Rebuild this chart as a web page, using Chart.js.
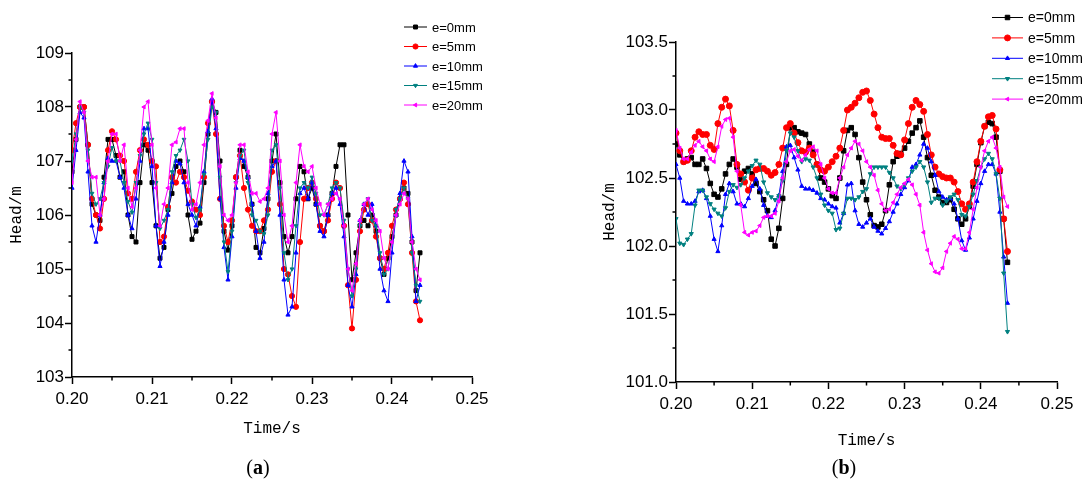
<!DOCTYPE html>
<html>
<head>
<meta charset="utf-8">
<script src="https://cdn.jsdelivr.net/npm/chart.js@4.4.1/dist/chart.umd.min.js"></script>
<style>
body { margin: 0; background: #fff; width: 1086px; height: 485px; position: relative; overflow: hidden; }
canvas { position: absolute; top: 0; }
#chartA { left: 0; }
#chartB { left: 543px; }
.cap { position: absolute; top: 456px; font-family: "Liberation Serif", serif; font-size: 20px; color: #000; transform: translateX(-50%); }
</style>
</head>
<body>
<canvas id="chartA" width="543" height="485"></canvas>
<canvas id="chartB" width="543" height="485"></canvas>
<div class="cap" style="left:258px">(<b>a</b>)</div>
<div class="cap" style="left:844px">(<b>b</b>)</div>
<script>
// sample times (s), shared by both panels
const times = [
  0.2000, 0.2005, 0.2010, 0.2015, 0.2020, 0.2025, 0.2030, 0.2035, 0.2040, 0.2045,
  0.2050, 0.2055, 0.2060, 0.2065, 0.2070, 0.2075, 0.2080, 0.2085, 0.2090, 0.2095,
  0.2100, 0.2105, 0.2110, 0.2115, 0.2120, 0.2125, 0.2130, 0.2135, 0.2140, 0.2145,
  0.2150, 0.2155, 0.2160, 0.2165, 0.2170, 0.2175, 0.2180, 0.2185, 0.2190, 0.2195,
  0.2200, 0.2205, 0.2210, 0.2215, 0.2220, 0.2225, 0.2230, 0.2235, 0.2240, 0.2245,
  0.2250, 0.2255, 0.2260, 0.2265, 0.2270, 0.2275, 0.2280, 0.2285, 0.2290, 0.2295,
  0.2300, 0.2305, 0.2310, 0.2315, 0.2320, 0.2325, 0.2330, 0.2335, 0.2340, 0.2345,
  0.2350, 0.2355, 0.2360, 0.2365, 0.2370, 0.2375, 0.2380, 0.2385, 0.2390, 0.2395,
  0.2400, 0.2405, 0.2410, 0.2415, 0.2420, 0.2425, 0.2430, 0.2435
];

const seriesNames = ['e=0mm', 'e=5mm', 'e=10mm', 'e=15mm', 'e=20mm'];

// panel (a) head, m
const headA0 = [
  106.8, 107.4, 108.0, 108.0, 107.3, 106.2, 106.0, 105.9, 106.7, 107.4,
  107.4, 107.1, 106.7, 106.8, 106.0, 105.6, 105.5, 106.6, 107.3, 107.2,
  106.6, 105.8, 105.2, 105.4, 106.1, 106.4, 106.9, 107.0, 106.8, 106.0,
  105.55, 105.7, 105.85, 106.6, 107.5, 108.1, 107.9, 107.0, 105.7, 105.35,
  105.8, 106.7, 107.2, 106.9, 106.7, 106.2, 105.4, 105.3, 105.75, 106.3,
  107.0, 107.5, 106.6, 105.6, 105.3, 105.6, 106.3, 106.9, 106.8, 106.3,
  106.5, 106.2, 105.8, 105.7, 106.0, 106.4, 106.9, 107.3, 107.3, 106.0,
  104.8, 105.3, 105.8, 105.9, 105.8, 106.0, 105.7, 105.2, 104.9, 105.2,
  105.6, 106.0, 106.3, 106.5, 106.4, 105.5, 104.6, 105.3
];
const headA5 = [
  107.2, 107.7, 108.0, 108.0, 107.3, 106.3, 106.0, 105.75, 106.3, 107.2,
  107.55, 107.4, 107.1, 107.0, 106.4, 106.3, 106.8, 107.2, 107.4, 107.3,
  107.0, 106.9, 105.5, 105.6, 106.15, 106.7, 106.6, 106.8, 106.7, 106.45,
  106.25, 106.1, 106.0, 106.7, 107.7, 108.1, 107.5, 106.3, 105.8, 105.5,
  105.9, 106.7, 107.1, 106.5, 106.1, 105.8, 105.7, 105.7, 105.9, 106.1,
  106.8, 107.0, 106.2, 105.0, 104.9, 104.5, 104.3, 105.5, 106.3, 106.5,
  106.6, 106.3, 105.8, 105.7, 105.9, 106.3, 106.6, 106.5, 105.8, 104.7,
  103.9, 104.8, 105.7, 106.1, 106.2, 105.9, 105.6, 105.2, 105.0, 105.3,
  105.8, 106.1, 106.3, 106.6, 106.2, 105.3, 104.4, 104.05
];
const headA10 = [
  106.5, 107.2, 107.9, 107.8, 106.8, 105.8, 105.5, 106.0, 106.6, 107.05,
  107.0, 107.0, 106.7, 106.5, 106.0, 105.75, 106.3, 107.0, 107.6, 107.6,
  106.9, 105.8, 105.05, 105.5, 106.0, 106.6, 107.0, 106.95, 106.6, 106.2,
  106.0, 105.8, 106.15, 106.8, 107.55, 108.15, 107.6, 106.3, 105.4, 104.8,
  105.6, 106.5, 107.05, 107.0, 106.7, 106.2, 105.7, 105.2, 105.5, 106.4,
  106.9, 107.0, 106.0, 104.8, 104.15, 104.3, 105.3, 106.4, 106.5, 106.3,
  106.6, 106.2, 105.7, 105.6, 106.0, 106.4, 106.5, 106.2, 105.6, 104.7,
  104.3, 104.9, 105.9, 106.2, 106.0, 106.2, 105.8, 105.0, 104.6, 104.4,
  105.3, 106.0, 106.4, 107.0, 106.8, 105.6, 104.4, 104.7
];
const headA15 = [
  107.0, 107.5, 108.0, 107.9, 107.2, 106.4, 106.2, 106.3, 106.6, 106.9,
  107.25, 107.0, 107.0, 106.6, 106.25, 106.05, 106.6, 107.1, 107.5, 107.7,
  107.4, 106.6, 105.75, 105.9, 106.1, 106.8, 107.1, 107.2, 107.4, 107.0,
  106.2, 105.95, 106.1, 106.75, 107.4, 108.0, 107.9, 106.7, 105.5, 104.95,
  105.7, 106.6, 107.1, 107.2, 106.6, 106.0, 105.9, 105.7, 105.65, 106.0,
  107.2, 107.3, 106.5, 105.3, 104.8, 105.0, 105.8, 106.5, 106.6, 106.5,
  106.7, 106.4, 106.0, 106.0, 106.2, 106.5, 106.6, 106.5, 105.9, 105.0,
  104.5, 105.0, 105.8, 106.2, 106.3, 105.9, 105.8, 105.3, 104.9, 105.0,
  105.5, 106.1, 106.3, 106.5, 106.3, 105.3, 104.7, 104.4
];
const headA20 = [
  106.6, 107.4, 108.1, 107.9, 107.0, 106.7, 106.7, 106.0, 106.3, 107.0,
  107.5, 107.5, 107.0, 107.3, 106.5, 106.15, 106.5, 107.2, 108.0, 108.1,
  107.3, 106.5, 105.8, 106.2, 106.5, 107.3, 107.35, 107.6, 107.6, 106.6,
  106.1, 106.2, 106.6, 107.3, 107.75, 108.25, 107.8, 106.9, 106.0, 105.9,
  106.0, 106.6, 107.3, 107.3, 106.8, 106.4, 106.4, 106.25, 106.3, 106.5,
  107.5, 107.9, 107.0, 106.0, 105.5, 105.8, 106.6, 107.3, 106.9, 106.8,
  106.9, 106.5, 106.2, 106.0, 106.2, 106.3, 106.4, 106.3, 105.8, 105.0,
  104.6, 105.1, 105.9, 106.2, 106.3, 106.1, 105.9, 105.7, 105.2, 105.0,
  105.5, 106.0, 106.2, 106.4, 106.3, 105.5, 105.0, 104.8
];

// panel (b) head, m
const headB0 = [
  102.75, 102.67, 102.62, 102.64, 102.65, 102.6, 102.6, 102.64, 102.57, 102.46,
  102.38, 102.36, 102.42, 102.53, 102.6, 102.64, 102.58, 102.49, 102.55, 102.57,
  102.53, 102.46, 102.4, 102.34, 102.26, 102.05, 102.0, 102.13, 102.35, 102.6,
  102.87, 102.87, 102.84, 102.83, 102.82, 102.75, 102.69, 102.6, 102.5, 102.47,
  102.42, 102.37, 102.35, 102.5, 102.7, 102.85, 102.87, 102.82, 102.65, 102.47,
  102.34, 102.23, 102.15, 102.14, 102.16, 102.26, 102.45, 102.62, 102.66, 102.68,
  102.72, 102.77, 102.83, 102.87, 102.92, 102.8, 102.65, 102.52, 102.41, 102.36,
  102.32, 102.32, 102.34, 102.27, 102.2, 102.16, 102.2, 102.29, 102.44, 102.6,
  102.76, 102.88, 102.91, 102.9, 102.8, 102.55, 102.2, 101.88
];
const headB5 = [
  102.83, 102.7, 102.62, 102.63, 102.7, 102.8, 102.84, 102.82, 102.82, 102.74,
  102.71, 102.9, 103.02, 103.08, 103.03, 102.85, 102.6, 102.53, 102.47, 102.41,
  102.5, 102.56, 102.57, 102.57, 102.55, 102.52, 102.54, 102.6, 102.72, 102.87,
  102.9, 102.83, 102.76, 102.7, 102.69, 102.72, 102.67, 102.6, 102.56, 102.55,
  102.58, 102.62, 102.66, 102.72, 102.85, 103.0, 103.02, 103.05, 103.09, 103.13,
  103.14, 103.07, 102.97, 102.87, 102.8, 102.79, 102.79, 102.74, 102.68, 102.67,
  102.78, 102.9, 103.02, 103.07, 103.04, 102.99, 102.82, 102.67, 102.58, 102.53,
  102.51, 102.5, 102.5, 102.47, 102.4, 102.31, 102.27, 102.31, 102.47, 102.62,
  102.77, 102.88, 102.95, 102.96, 102.86, 102.56, 102.2, 101.96
];
const headB10 = [
  102.6, 102.5, 102.33, 102.31, 102.31, 102.33, 102.4, 102.41, 102.35, 102.22,
  102.05, 101.96, 102.15, 102.38, 102.46, 102.4, 102.31, 102.31, 102.29, 102.35,
  102.44, 102.49, 102.42, 102.3, 102.22, 102.21, 102.26, 102.37, 102.55, 102.73,
  102.74, 102.65, 102.56, 102.44, 102.42, 102.42, 102.41, 102.39, 102.35, 102.34,
  102.31, 102.29, 102.28, 102.17, 102.24, 102.45, 102.46, 102.26, 102.16, 102.14,
  102.17, 102.2, 102.14, 102.11, 102.09, 102.13, 102.18, 102.25, 102.31, 102.38,
  102.43, 102.48, 102.58, 102.6, 102.67, 102.75, 102.72, 102.62, 102.52, 102.4,
  102.36, 102.34, 102.35, 102.31, 102.2, 102.04, 101.97, 102.06, 102.2, 102.33,
  102.46, 102.55, 102.6, 102.6, 102.53, 102.25, 101.92, 101.58
];
const headB15 = [
  102.2, 102.02, 102.01, 102.05, 102.09, 102.3, 102.41, 102.41, 102.36, 102.31,
  102.27, 102.24, 102.22, 102.28, 102.4, 102.45, 102.43, 102.45, 102.5, 102.55,
  102.59, 102.63, 102.6, 102.47, 102.39, 102.36, 102.34, 102.37, 102.48, 102.7,
  102.83, 102.8, 102.7, 102.62, 102.64, 102.63, 102.58, 102.5, 102.38, 102.3,
  102.26, 102.24, 102.12, 102.13, 102.24, 102.35, 102.35, 102.34, 102.36, 102.4,
  102.42, 102.53, 102.58, 102.58, 102.58, 102.58, 102.54, 102.5, 102.44, 102.42,
  102.45, 102.5, 102.55, 102.58, 102.62, 102.58, 102.47, 102.32, 102.35, 102.35,
  102.3, 102.33, 102.36, 102.38, 102.34, 102.23, 102.22, 102.29, 102.38, 102.48,
  102.58, 102.64, 102.68, 102.64, 102.53, 102.35, 101.8, 101.37
];
const headB20 = [
  102.85, 102.72, 102.64, 102.64, 102.69, 102.74, 102.77, 102.73, 102.7, 102.64,
  102.62, 102.73, 102.88, 102.93, 102.94, 102.8, 102.55, 102.3, 102.1, 102.08,
  102.1, 102.11, 102.15, 102.21, 102.22, 102.22, 102.24, 102.33, 102.5, 102.62,
  102.7, 102.71, 102.66, 102.63, 102.67, 102.71, 102.73, 102.7, 102.6, 102.5,
  102.42, 102.39, 102.39, 102.5, 102.58, 102.67, 102.72, 102.77, 102.75, 102.7,
  102.62, 102.58, 102.52, 102.41, 102.31, 102.26, 102.27, 102.32, 102.38, 102.43,
  102.46, 102.49, 102.45, 102.38, 102.3, 102.1, 101.97, 101.87, 101.81, 101.8,
  101.84, 101.96, 102.02, 102.07, 102.05, 101.98, 101.98, 102.1, 102.27, 102.43,
  102.58, 102.7, 102.77, 102.8, 102.72, 102.58, 102.36, 102.29
];

const colors = ['#000000', '#ff0000', '#0000ff', '#008080', '#ff00ff'];
const markers = [
  { style: 'rect', rot: 0 },
  { style: 'circle', rot: 0 },
  { style: 'triangle', rot: 0 },
  { style: 'triangle', rot: 180 },
  { style: 'triangle', rot: -90 }
];

const tickFont = { family: '"Liberation Sans", Arial, sans-serif', size: 17 };
const titleFont = { family: '"Liberation Mono", monospace', size: 16 };

// legend drawn as line + marker + text, like the original plot software does
const lineLegend = {
  id: 'lineLegend',
  afterDraw(chart, args, opts) {
    const ctx = chart.ctx;
    ctx.save();
    ctx.font = opts.fontSize + 'px "Liberation Sans", Arial, sans-serif';
    ctx.textBaseline = 'middle';
    chart.data.datasets.forEach((ds, i) => {
      const y = opts.y + i * opts.gap;
      ctx.strokeStyle = ds.borderColor;
      ctx.fillStyle = ds.borderColor;
      ctx.lineWidth = 1;
      ctx.beginPath();
      ctx.moveTo(opts.x, y);
      ctx.lineTo(opts.x + opts.len, y);
      ctx.stroke();
      Chart.helpers.drawPoint(ctx, {
        pointStyle: ds.pointStyle, rotation: ds.pointRotation,
        radius: ds.pointRadius, borderWidth: 1
      }, opts.x + opts.len / 2, y);
      ctx.fillStyle = '#000';
      ctx.fillText(ds.label, opts.x + opts.len + 5, y + 1);
    });
    ctx.restore();
  }
};

// short minor ticks (the unlabelled ones)
const minorTicks = {
  id: 'minorTicks',
  afterDraw(chart) {
    const ctx = chart.ctx;
    ctx.save();
    ctx.strokeStyle = '#000';
    ctx.lineWidth = 1.5;
    ['x', 'y'].forEach(k => {
      const s = chart.scales[k];
      s.ticks.forEach((t, i) => {
        if (t.label !== '') return;
        const p = s.getPixelForTick(i);
        ctx.beginPath();
        if (k === 'x') { ctx.moveTo(p, s.top); ctx.lineTo(p, s.top + 3.5); }
        else { ctx.moveTo(s.right, p); ctx.lineTo(s.right - 3.5, p); }
        ctx.stroke();
      });
    });
    ctx.restore();
  }
};

const majorColor = c => (c.tick && c.tick.label === '') ? 'rgba(0,0,0,0)' : '#000';

function makeDatasets(series, sizes) {
  return series.map((vals, i) => ({
    label: seriesNames[i],
    data: times.map((t, k) => ({ x: t, y: vals[k] })),
    borderColor: colors[i],
    backgroundColor: colors[i],
    borderWidth: 1,
    pointStyle: markers[i].style,
    pointRotation: markers[i].rot,
    pointRadius: sizes[i],
    pointBorderWidth: 1,
    tension: 0,
    order: 5 - i
  }));
}

function makeChart(id, p) {
  return new Chart(document.getElementById(id), {
    type: 'line',
    data: { datasets: makeDatasets(p.series, p.sizes) },
    options: {
      responsive: false,
      animation: false,
      devicePixelRatio: 1,
      layout: { padding: p.pad },
      plugins: {
        legend: { display: false },
        tooltip: { enabled: false },
        lineLegend: p.legend
      },
      scales: {
        x: {
          type: 'linear',
          min: 0.2,
          max: 0.25,
          afterFit: s => { s.height = p.xHeight; },
          border: { display: true, color: '#000', width: 1.5 },
          grid: { drawOnChartArea: false, tickLength: 7, tickColor: majorColor, tickWidth: 1.5 },
          ticks: {
            stepSize: 0.005, autoSkip: false, maxRotation: 0, color: '#000', font: tickFont, padding: 5,
            callback: v => Math.abs(v * 100 - Math.round(v * 100)) < 1e-6 ? v.toFixed(2) : ''
          },
          title: { display: true, text: 'Time/s', color: '#000', font: titleFont, padding: { top: 0, bottom: p.xTitlePad } }
        },
        y: {
          min: p.yMin,
          max: p.yMax,
          afterFit: s => { s.width = p.yWidth; },
          border: { display: true, color: '#000', width: 1.5 },
          grid: { drawOnChartArea: false, tickLength: 7, tickColor: majorColor, tickWidth: 1.5 },
          ticks: {
            stepSize: p.yStep, autoSkip: false, color: '#000', font: tickFont, padding: 1,
            callback: p.yLabel
          },
          title: { display: true, text: 'Head/m', color: '#000', font: titleFont, padding: { top: p.yTitlePad, bottom: 0 } }
        }
      }
    },
    plugins: [lineLegend, minorTicks]
  });
}

makeChart('chartA', {
  series: [headA0, headA5, headA10, headA15, headA20],
  sizes: [2.8, 2.6, 2.4, 2.2, 2.2],
  pad: { left: 0, right: 71, top: 53, bottom: 46 },
  xHeight: 62, xTitlePad: 1,
  yWidth: 72, yTitlePad: 7,
  yMin: 103, yMax: 109, yStep: 0.5,
  yLabel: v => Math.abs(v - Math.round(v)) < 1e-6 ? String(Math.round(v)) : '',
  legend: { x: 404, y: 27, gap: 19.5, len: 23, fontSize: 13 }
});

makeChart('chartB', {
  series: [headB0, headB5, headB10, headB15, headB20],
  sizes: [3.2, 3, 2.4, 2.4, 2.2],
  pad: { left: 0, right: 29, top: 42, bottom: 33 },
  xHeight: 70, xTitlePad: 2,
  yWidth: 133, yTitlePad: 57,
  yMin: 101, yMax: 103.5, yStep: 0.25,
  yLabel: v => Math.abs(v * 2 - Math.round(v * 2)) < 1e-6 ? v.toFixed(1) : '',
  legend: { x: 449, y: 17.5, gap: 20.4, len: 31, fontSize: 14 }
});
</script>
</body>
</html>
